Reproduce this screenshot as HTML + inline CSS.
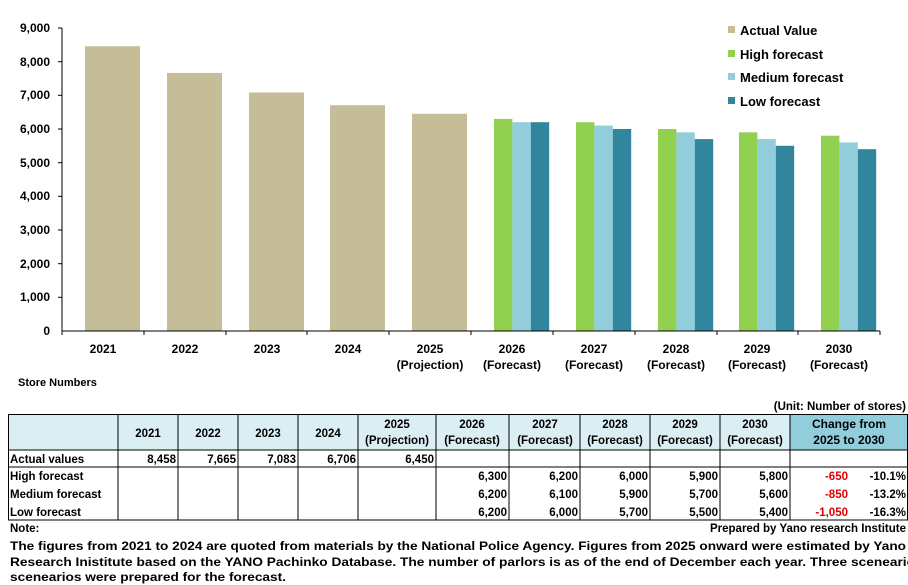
<!DOCTYPE html>
<html><head><meta charset="utf-8"><style>
body{margin:0;background:#fff;overflow:hidden;}
svg{display:block;font-family:"Liberation Sans",Arial,sans-serif;font-weight:bold;}
</style></head><body>
<svg width="908" height="585" viewBox="0 0 908 585" xmlns="http://www.w3.org/2000/svg">
<g font-size="12" fill="#000">
<line x1="62" y1="28" x2="62" y2="331" stroke="#000"/>
<g stroke="#000">
<line x1="58" y1="28" x2="62" y2="28"/><line x1="58" y1="61.7" x2="62" y2="61.7"/><line x1="58" y1="95.3" x2="62" y2="95.3"/><line x1="58" y1="129" x2="62" y2="129"/><line x1="58" y1="162.7" x2="62" y2="162.7"/><line x1="58" y1="196.3" x2="62" y2="196.3"/><line x1="58" y1="230" x2="62" y2="230"/><line x1="58" y1="263.7" x2="62" y2="263.7"/><line x1="58" y1="297.3" x2="62" y2="297.3"/>
</g>
<g text-anchor="end" font-size="12">
<text x="50" y="32">9,000</text><text x="50" y="66">8,000</text><text x="50" y="99">7,000</text><text x="50" y="133">6,000</text><text x="50" y="167">5,000</text><text x="50" y="200">4,000</text><text x="50" y="234">3,000</text><text x="50" y="268">2,000</text><text x="50" y="301">1,000</text><text x="50" y="335">0</text>
</g>
<g fill="#c4bd97">
<rect x="85" y="46.2" width="55" height="284.8"/>
<rect x="167" y="72.9" width="55" height="258.1"/>
<rect x="249" y="92.5" width="55" height="238.5"/>
<rect x="330" y="105.2" width="55" height="225.8"/>
<rect x="412" y="113.8" width="55" height="217.2"/>
</g>
<g>
<rect x="494" y="118.9" width="18.4" height="212.1" fill="#92d050"/><rect x="512.4" y="122.2" width="18.4" height="208.8" fill="#92cddc"/><rect x="530.8" y="122.2" width="18.4" height="208.8" fill="#31859c"/>
<rect x="576" y="122.2" width="18.4" height="208.8" fill="#92d050"/><rect x="594.4" y="125.6" width="18.4" height="205.4" fill="#92cddc"/><rect x="612.8" y="129" width="18.4" height="202" fill="#31859c"/>
<rect x="658" y="129" width="18.4" height="202" fill="#92d050"/><rect x="676.4" y="132.3" width="18.4" height="198.7" fill="#92cddc"/><rect x="694.8" y="139.1" width="18.4" height="191.9" fill="#31859c"/>
<rect x="739" y="132.3" width="18.4" height="198.7" fill="#92d050"/><rect x="757.4" y="139.1" width="18.4" height="191.9" fill="#92cddc"/><rect x="775.8" y="145.8" width="18.4" height="185.2" fill="#31859c"/>
<rect x="821" y="135.7" width="18.4" height="195.3" fill="#92d050"/><rect x="839.4" y="142.4" width="18.4" height="188.6" fill="#92cddc"/><rect x="857.8" y="149.2" width="18.4" height="181.8" fill="#31859c"/>
</g>
<line x1="62" y1="331" x2="880" y2="331" stroke="#000"/>
<g stroke="#000">
<line x1="62" y1="331" x2="62" y2="335"/><line x1="144" y1="331" x2="144" y2="335"/><line x1="226" y1="331" x2="226" y2="335"/><line x1="307" y1="331" x2="307" y2="335"/><line x1="389" y1="331" x2="389" y2="335"/><line x1="471" y1="331" x2="471" y2="335"/><line x1="553" y1="331" x2="553" y2="335"/><line x1="635" y1="331" x2="635" y2="335"/><line x1="717" y1="331" x2="717" y2="335"/><line x1="798" y1="331" x2="798" y2="335"/><line x1="880" y1="331" x2="880" y2="335"/>
</g>
<g text-anchor="middle">
<text x="103" y="353">2021</text><text x="185" y="353">2022</text><text x="267" y="353">2023</text><text x="348" y="353">2024</text>
<text x="430" y="353">2025</text><text x="430" y="369">(Projection)</text>
<text x="512" y="353">2026</text><text x="512" y="369">(Forecast)</text>
<text x="594" y="353">2027</text><text x="594" y="369">(Forecast)</text>
<text x="676" y="353">2028</text><text x="676" y="369">(Forecast)</text>
<text x="757" y="353">2029</text><text x="757" y="369">(Forecast)</text>
<text x="839" y="353">2030</text><text x="839" y="369">(Forecast)</text>
</g>
<text x="18" y="386" font-size="11">Store Numbers</text>
<g font-size="13">
<rect x="728" y="26" width="7" height="7" fill="#c4bd97"/><text x="740" y="35">Actual Value</text>
<rect x="728" y="50" width="7" height="7" fill="#92d050"/><text x="740" y="59">High forecast</text>
<rect x="728" y="73" width="7" height="7" fill="#92cddc"/><text x="740" y="82">Medium forecast</text>
<rect x="728" y="97" width="7" height="7" fill="#31859c"/><text x="740" y="106">Low forecast</text>
</g>
</g>
<g font-size="11.5">
<text x="906" y="410" text-anchor="end">(Unit: Number of stores)</text>
<rect x="8" y="414" width="782" height="36" fill="#dbeef4"/>
<rect x="790" y="414" width="118" height="36" fill="#92cddc"/>
<g stroke="#000" stroke-width="1" fill="none">
<rect x="8.5" y="414.5" width="899" height="105.5"/>
<line x1="8" y1="450" x2="908" y2="450"/>
<line x1="8" y1="467" x2="908" y2="467"/>
<line x1="118" y1="414" x2="118" y2="520"/><line x1="178" y1="414" x2="178" y2="520"/><line x1="238" y1="414" x2="238" y2="520"/><line x1="298" y1="414" x2="298" y2="520"/><line x1="358" y1="414" x2="358" y2="520"/><line x1="436" y1="414" x2="436" y2="520"/><line x1="509" y1="414" x2="509" y2="520"/><line x1="580" y1="414" x2="580" y2="520"/><line x1="650" y1="414" x2="650" y2="520"/><line x1="720" y1="414" x2="720" y2="520"/><line x1="790" y1="414" x2="790" y2="520"/>
</g>
<g text-anchor="middle">
<text x="148" y="437">2021</text><text x="208" y="437">2022</text><text x="268" y="437">2023</text><text x="328" y="437">2024</text>
<text x="397" y="428">2025</text><text x="397" y="444">(Projection)</text>
<text x="472" y="428">2026</text><text x="472" y="444">(Forecast)</text>
<text x="545" y="428">2027</text><text x="545" y="444">(Forecast)</text>
<text x="615" y="428">2028</text><text x="615" y="444">(Forecast)</text>
<text x="685" y="428">2029</text><text x="685" y="444">(Forecast)</text>
<text x="755" y="428">2030</text><text x="755" y="444">(Forecast)</text>
<text x="849" y="428" font-size="12">Change from</text><text x="849" y="444" font-size="12">2025 to 2030</text>
</g>
<text x="10" y="463">Actual values</text>
<text x="10" y="480">High forecast</text>
<text x="10" y="498">Medium forecast</text>
<text x="10" y="516">Low forecast</text>
<g text-anchor="end">
<text x="176" y="463">8,458</text><text x="236" y="463">7,665</text><text x="296" y="463">7,083</text><text x="356" y="463">6,706</text><text x="434" y="463">6,450</text>
<text x="507" y="480">6,300</text><text x="578" y="480">6,200</text><text x="648" y="480">6,000</text><text x="718" y="480">5,900</text><text x="788" y="480">5,800</text>
<text x="507" y="498">6,200</text><text x="578" y="498">6,100</text><text x="648" y="498">5,900</text><text x="718" y="498">5,700</text><text x="788" y="498">5,600</text>
<text x="507" y="516">6,200</text><text x="578" y="516">6,000</text><text x="648" y="516">5,700</text><text x="718" y="516">5,500</text><text x="788" y="516">5,400</text>
<text x="848" y="480" fill="#e00000">-650</text><text x="906" y="480">-10.1%</text>
<text x="848" y="498" fill="#e00000">-850</text><text x="906" y="498">-13.2%</text>
<text x="848" y="516" fill="#e00000">-1,050</text><text x="906" y="516">-16.3%</text>
</g>
<text x="10" y="532">Note:</text>
<text x="906" y="532" text-anchor="end">Prepared by Yano research Institute</text>
<text x="10" y="550" textLength="896" lengthAdjust="spacingAndGlyphs">The figures from 2021 to 2024 are quoted from materials by the National Police Agency. Figures from 2025 onward were estimated by Yano</text>
<text x="10" y="566" textLength="905" lengthAdjust="spacingAndGlyphs">Research Inistitute based on the YANO Pachinko Database. The number of parlors is as of the end of December each year. Three sceneario</text>
<text x="10" y="581" textLength="276" lengthAdjust="spacingAndGlyphs">scenearios were prepared for the forecast.</text>
</g>
</svg>
</body></html>
